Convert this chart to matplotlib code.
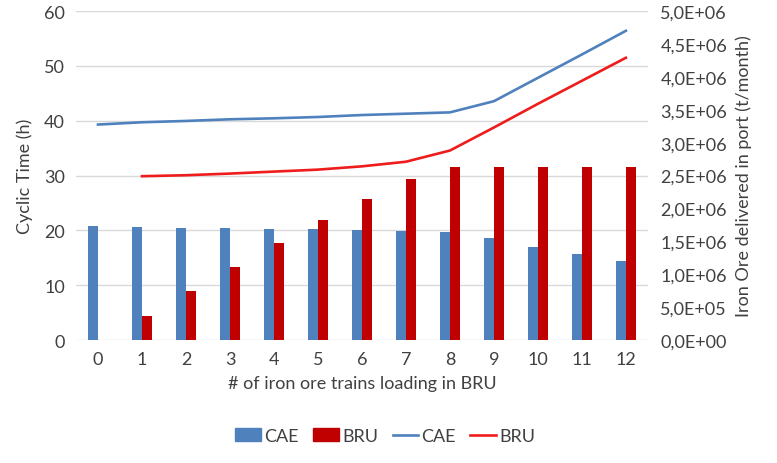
import matplotlib
matplotlib.use("Agg")
import matplotlib.pyplot as plt
import numpy as np
from matplotlib.patches import Patch
from matplotlib.lines import Line2D

plt.rcParams['font.family'] = ['Lato', 'DejaVu Sans']

categories = [0, 1, 2, 3, 4, 5, 6, 7, 8, 9, 10, 11, 12]
cae_bar = [20.75, 20.6, 20.5, 20.4, 20.3, 20.3, 20.0, 19.8, 19.65, 18.7, 17.0, 15.7, 14.4]
bru_bar = [np.nan, 4.4, 9.0, 13.4, 17.7, 21.85, 25.7, 29.4, 31.5, 31.5, 31.5, 31.5, 31.5]
cae_line = [3.275e6, 3.31e6, 3.33e6, 3.355e6, 3.37e6, 3.39e6, 3.42e6, 3.44e6, 3.46e6, 3.63e6, 3.985e6, 4.34e6, 4.70e6]
bru_line = [np.nan, 2.49e6, 2.505e6, 2.53e6, 2.56e6, 2.59e6, 2.64e6, 2.71e6, 2.88e6, 3.23e6, 3.59e6, 3.94e6, 4.29e6]
left_ticks = [0, 10, 20, 30, 40, 50, 60]
right_ticks = [0, 5e5, 1e6, 1.5e6, 2e6, 2.5e6, 3e6, 3.5e6, 4e6, 4.5e6, 5e6]

blue = '#4F81BD'
dark_red = '#C00000'
red = '#EE1C1C'
txt = '#404040'
fs = 13

fig = plt.figure(figsize=(7.77, 4.64), dpi=100)
ax = fig.add_axes([0.0978, 0.265, 0.736, 0.709])
x = np.arange(len(categories))
w = 0.23
ax.bar(x - w / 2, cae_bar, width=w, color=blue, zorder=2)
ax.bar(x + w / 2, bru_bar, width=w, color=dark_red, zorder=2)
ax.set_ylim(0, 60)
ax.set_xlim(-0.5, len(categories) - 0.5)
ax.set_yticks(left_ticks)
ax.set_xticks(x)
ax.set_xticklabels([str(c) for c in categories])
ax.yaxis.grid(True, color='#D9D9D9', linewidth=1, zorder=0)
ax.set_axisbelow(True)
for s in ax.spines.values():
    s.set_visible(False)
ax.tick_params(length=0, labelsize=fs, colors=txt, pad=8)
ax.set_ylabel('Cyclic Time (h)', fontsize=fs, color=txt, labelpad=8)
ax.set_xlabel('# of iron ore trains loading in BRU', fontsize=fs, color=txt, labelpad=6)

ax2 = ax.twinx()
ax2.plot(x, cae_line, color=blue, linewidth=1.9, zorder=3)
ax2.plot(x, bru_line, color=red, linewidth=1.9, zorder=3)
ax2.set_ylim(0, 5e6)
ax2.set_yticks(right_ticks)
ax2.set_yticklabels([('%.1E' % v).replace('.', ',') for v in right_ticks])
for s in ax2.spines.values():
    s.set_visible(False)
ax2.tick_params(length=0, labelsize=fs, colors=txt, pad=9)
ax2.set_ylabel('Iron Ore delivered in port (t/month)', fontsize=fs, color=txt, labelpad=6)

handles = [Patch(color=blue), Patch(color=dark_red),
           Line2D([0], [0], color=blue, linewidth=1.9), Line2D([0], [0], color=red, linewidth=1.9)]
labels = ['CAE', 'BRU', 'CAE', 'BRU']
leg = fig.legend(handles, labels, loc='center', bbox_to_anchor=(0.496, 0.058), ncol=4,
                 frameon=False, fontsize=fs, handlelength=1.4, handletextpad=0.2, columnspacing=0.8)
for t in leg.get_texts():
    t.set_color(txt)

fig.savefig('out.png', dpi=100)
